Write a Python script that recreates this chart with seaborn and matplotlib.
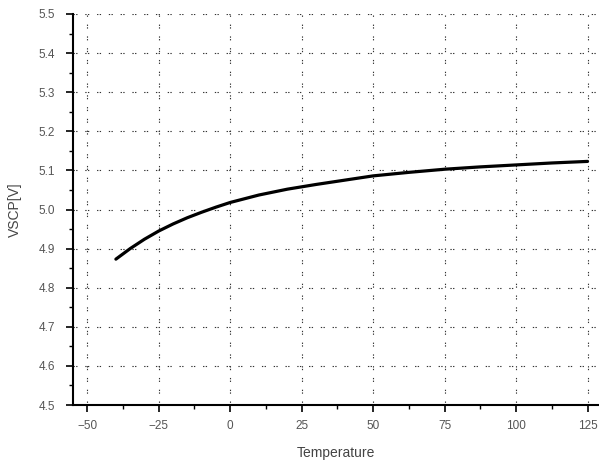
import matplotlib
matplotlib.use("Agg")
import matplotlib.pyplot as plt
from matplotlib.ticker import MultipleLocator
import seaborn as sns
import pandas as pd

temperature = [-40, -35, -30, -25, -20, -15, -10, -5, 0, 10, 20, 30, 40, 50, 62.5, 75, 87.5, 100, 112.5, 125]
vscp = [4.873, 4.900, 4.924, 4.945, 4.963, 4.979, 4.993, 5.006, 5.018, 5.037, 5.052, 5.064,
        5.075, 5.086, 5.095, 5.103, 5.109, 5.114, 5.119, 5.123]

xticks = [-50, -25, 0, 25, 50, 75, 100, 125]
yticks = [4.5, 4.6, 4.7, 4.8, 4.9, 5.0, 5.1, 5.2, 5.3, 5.4, 5.5]

sns.set_style("white")
plt.rcParams['font.family'] = ['Liberation Sans', 'DejaVu Sans']

df = pd.DataFrame({"Temperature": temperature, "VSCP[V]": vscp})

fig = plt.figure(figsize=(5.99, 4.66), dpi=100)
ax = fig.add_axes([73 / 599, 1 - 405 / 466, (599 - 73) / 599, (405 - 14) / 466])
sns.lineplot(data=df, x="Temperature", y="VSCP[V]", ax=ax, color="black", linewidth=2.3)

ax.set_xlim(-55, 129)
ax.set_ylim(4.5, 5.5)
ax.set_xticks(xticks)
ax.set_yticks(yticks)
ax.set_yticklabels([f"{v:.1f}" for v in yticks])
ax.xaxis.set_minor_locator(MultipleLocator(12.5))
ax.yaxis.set_minor_locator(MultipleLocator(0.05))

ax.grid(True, which="major", color="#333333", linestyle=(0, (1.2, 1.2, 1.2, 7)), linewidth=0.8)
ax.set_axisbelow(True)

for s in ["top", "right"]:
    ax.spines[s].set_visible(False)
for s in ["left", "bottom"]:
    ax.spines[s].set_color("black")
    ax.spines[s].set_linewidth(1.5)

ax.tick_params(axis="both", which="major", direction="out", length=5, width=1.2,
               color="black", labelsize=8.5, labelcolor="#555555", left=True, bottom=True)
ax.tick_params(axis="y", which="major", pad=8)
ax.tick_params(axis="x", which="major", pad=6)
ax.tick_params(axis="both", which="minor", direction="out", length=3, width=1.0,
               color="black", left=True, bottom=True)

ax.set_xlabel("Temperature", fontsize=10, color="#444444", labelpad=10)
ax.set_ylabel("VSCP[V]", fontsize=10, color="#444444", labelpad=12)

fig.savefig("out.png", dpi=100)
